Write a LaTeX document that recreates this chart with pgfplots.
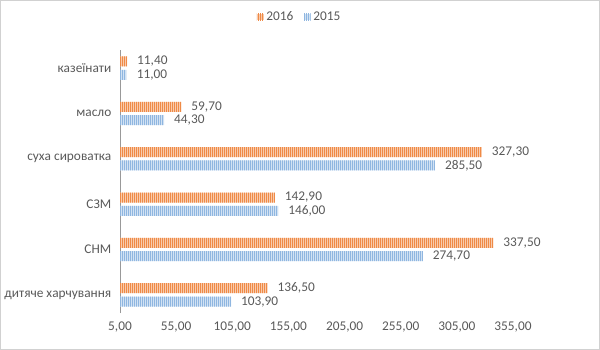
\documentclass[border=0pt]{standalone}
\usepackage{fontspec}
\setmainfont{Carlito}
\usepackage{pgfplots}
\pgfplotsset{compat=1.18}
\usetikzlibrary{patterns.meta}
\definecolor{or}{HTML}{ED7D31}
\definecolor{bl}{HTML}{8FB6E0}
\definecolor{txt}{HTML}{595959}
\begin{document}
\begin{tikzpicture}
\useasboundingbox (0,0) rectangle (450pt,262.5pt);
\draw[draw=black!18, line width=0.75pt] (0.375pt,0.375pt) rectangle (449.625pt,262.125pt);
\begin{axis}[
  at={(90pt,27.75pt)}, anchor=south west, scale only axis,
  width=294.75pt, height=197.25pt,
  xbar, bar width=7.5pt,
  xmin=5, xmax=355, ymin=-0.4, ymax=5.4,
  axis lines*=left,
  x axis line style={draw=none},
  y axis line style={draw=black!40, line width=0.6pt},
  major tick length=0pt,
  xtick={5,55,...,355},
  ytick={0,...,5},
  yticklabels={дитяче харчування, СНМ, СЗМ, суха сироватка, масло, казеїнати},
  tick label style={font=\fontsize{10}{12}\selectfont, text=txt},
  xticklabel style={yshift=-3pt},
  yticklabel style={xshift=-3pt},
  /pgf/number format/.cd, fixed, fixed zerofill, precision=2, use comma, assume math mode=true,
  /pgfplots/.cd,
  nodes near coords,
  every node near coord/.append style={font=\fontsize{10}{12}\selectfont, text=txt, anchor=west, xshift=4pt,
    /pgf/number format/fixed, /pgf/number format/fixed zerofill, /pgf/number format/precision=2, /pgf/number format/use comma, /pgf/number format/assume math mode=true},
  legend columns=2,
  legend style={draw=none, fill=none, font=\fontsize{10}{12}\selectfont, text=txt,
    at={(axis description cs:0.458,1.125)}, anchor=center,
    /tikz/every even column/.append style={column sep=6pt}},
  legend image code/.code={\fill[#1] (0pt,-2.5pt) rectangle (5pt,2.5pt);},
]
\addplot+[bar shift=5pt, draw=none, fill=or!40,
  postaction={pattern={Lines[angle=90,distance=1.5pt,line width=0.7pt]}, pattern color=or!90}]
  coordinates {(136.5,0) (337.5,1) (142.9,2) (327.3,3) (59.7,4) (11.4,5)};
\addlegendentry{2016}
\addplot+[bar shift=-5pt, draw=none, fill=bl!40,
  postaction={pattern={Lines[angle=90,distance=1.5pt,line width=0.7pt]}, pattern color=bl}]
  coordinates {(103.9,0) (274.7,1) (146.0,2) (285.5,3) (44.3,4) (11.0,5)};
\addlegendentry{2015}
\end{axis}
\end{tikzpicture}
\end{document}
